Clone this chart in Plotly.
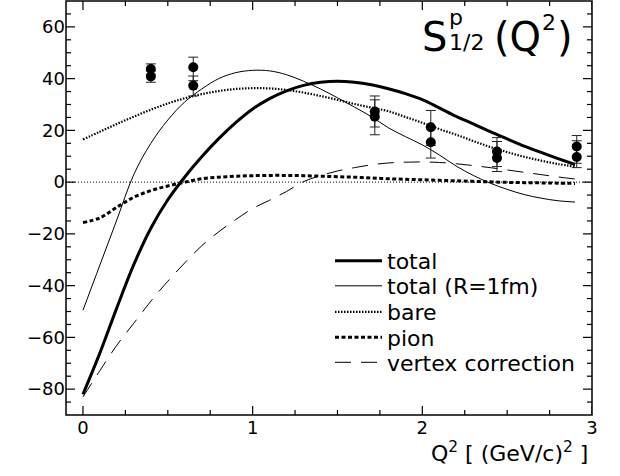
import plotly.graph_objects as go

# ---------------- data ----------------
q2 = [0.0, 0.1, 0.2, 0.3, 0.4, 0.5, 0.6, 0.7, 0.8, 0.9,
      1.0, 1.1, 1.2, 1.3, 1.4, 1.5, 1.6, 1.7, 1.8, 1.9,
      2.0, 2.1, 2.2, 2.3, 2.4, 2.5, 2.6, 2.7, 2.8, 2.9]

total = [-82, -66, -48.5, -31.8, -17.8, -6.8, 2.0, 9.8, 16.8, 23.0,
         28.3, 32.3, 35.3, 37.4, 38.6, 39.0, 38.6, 37.6, 36.1, 34.2,
         31.9, 28.7, 25.4, 22.5, 19.5, 16.7, 13.9, 11.5, 9.1, 6.8]

total_r1 = [-49.5, -32, -14.5, 3, 15, 24, 31, 36, 40, 42.3,
            43.2, 43.0, 41.5, 39.0, 36.0, 32.6, 29.0, 25.3, 21.0, 17.6,
            14.4, 10.5, 6.2, 2.6, -0.4, -2.8, -4.8, -6.2, -7.2, -7.7]

bare = [16.5, 19.5, 22.5, 25.3, 28.0, 30.4, 32.4, 34.0, 35.2, 36.0,
        36.3, 36.2, 35.6, 34.6, 33.3, 31.8, 30.2, 28.8, 27.4, 25.2,
        22.9, 20.5, 18.3, 15.9, 13.6, 11.6, 9.8, 8.3, 7.0, 6.0]

pion = [-15.6, -13.8, -9.7, -5.8, -3.3, -1.5, 0.0, 1.3, 1.9, 2.3,
        2.5, 2.6, 2.6, 2.5, 2.3, 2.1, 1.9, 1.6, 1.3, 1.1,
        0.9, 0.7, 0.5, 0.3, 0.1, -0.1, -0.2, -0.3, -0.4, -0.5]

vertex = [-83, -72.8, -63, -54.5, -46, -38.3, -31.2, -24.6, -19.2, -14.5,
          -10.2, -7.0, -3.6, 0.2, 2.5, 4.3, 5.6, 6.7, 7.4, 7.7,
          7.8, 7.6, 7.1, 6.4, 5.6, 4.7, 3.8, 2.9, 2.0, 1.2]

data_q2 = [0.40, 0.40, 0.65, 0.65, 1.72, 1.72, 2.05, 2.05, 2.44, 2.44, 2.91, 2.91]
data_s = [43.7, 40.8, 44.4, 37.3, 27.3, 25.3, 21.2, 15.4, 11.8, 9.3, 13.8, 9.7]
err_up = [2.0, 2.2, 3.9, 3.7, 6.0, 6.5, 6.5, 6.0, 5.4, 6.4, 4.2, 6.3]
err_dn = [2.0, 2.2, 5.2, 4.0, 6.0, 7.0, 7.0, 6.1, 5.8, 5.2, 6.5, 4.1]

legend_names = ["total", "total (R=1fm)", "bare", "pion", "vertex correction"]

x_range = [-0.1, 3.0]
y_range = [-90, 70]
x_major, x_minor_step = 1.0, 0.25
y_major, y_minor_step = 20, 5

FONT = "DejaVu Sans"

# ---------------- figure ----------------
fig = go.Figure()

# zero reference line
fig.add_trace(go.Scatter(x=x_range, y=[0, 0], mode="lines",
                         line=dict(color="black", width=1, dash="1px,2px"),
                         showlegend=False, hoverinfo="skip"))

curves = [total, total_r1, bare, pion, vertex]
styles = [dict(width=3, dash="solid"),
          dict(width=1, dash="solid"),
          dict(width=2.2, dash="1.5px,1.5px"),
          dict(width=3, dash="4px,2.5px"),
          dict(width=1, dash="16px,10px")]
legend_ids = ["legend", "legend2", "legend3", "legend4", "legend5"]
for name, ys, st, lg in zip(legend_names, curves, styles, legend_ids):
    fig.add_trace(go.Scatter(x=q2, y=ys, mode="lines", name=name, legend=lg,
                             line=dict(color="black", shape="spline", **st)))

fig.add_trace(go.Scatter(
    x=data_q2, y=data_s, mode="markers", showlegend=False,
    marker=dict(color="black", size=10),
    error_y=dict(type="data", array=err_up, arrayminus=err_dn, symmetric=False,
                 color="#222", thickness=1, width=5)))

axis_common = dict(showline=False, ticks="", showgrid=False, zeroline=False,
                   tickmode="linear", tick0=0,
                   tickfont=dict(family=FONT, size=18, color="black"))
fig.update_xaxes(range=x_range, dtick=x_major, **axis_common)
fig.update_yaxes(range=y_range, dtick=y_major, **axis_common)

# plot frame
fig.add_shape(type="rect", xref="paper", yref="paper", x0=0, y0=0, x1=1, y1=1,
              line=dict(color="black", width=1.5), layer="above")

# inward ticks on all four sides (positioned through the axes, length in pixels)
tick_line = dict(color="black", width=1.2)
n_x = int(round((x_range[1] - 0) / x_minor_step))
for i in range(n_x + 1):
    xv = i * x_minor_step
    L = 9 if abs(xv / x_major - round(xv / x_major)) < 1e-9 else 5
    fig.add_shape(type="line", xref="x", yref="y", x0=xv, x1=xv,
                  ysizemode="pixel", yanchor=y_range[0], y0=0, y1=L,
                  line=tick_line, layer="above")
    fig.add_shape(type="line", xref="x", yref="y", x0=xv, x1=xv,
                  ysizemode="pixel", yanchor=y_range[1], y0=0, y1=-L,
                  line=tick_line, layer="above")
n_y = int(round((y_range[1] - y_range[0]) / y_minor_step))
for i in range(1, n_y):
    yv = y_range[0] + i * y_minor_step
    L = 9 if yv % y_major == 0 else 5
    fig.add_shape(type="line", xref="x", yref="y", y0=yv, y1=yv,
                  xsizemode="pixel", xanchor=x_range[0], x0=0, x1=L,
                  line=tick_line, layer="above")
    fig.add_shape(type="line", xref="x", yref="y", y0=yv, y1=yv,
                  xsizemode="pixel", xanchor=x_range[1], x0=0, x1=-L,
                  line=tick_line, layer="above")

def px_x(px):
    return (px - 66) / 526.0

def px_y(py):
    return (415 - py) / 414.0

ann = []
# title S^p_{1/2}(Q^2)
ann.append(dict(text="S", x=px_x(421), y=px_y(36.5), font=dict(size=40)))
ann.append(dict(text="p", x=px_x(448), y=px_y(18), font=dict(size=22)))
ann.append(dict(text="1/2", x=px_x(448), y=px_y(42), font=dict(size=22)))
ann.append(dict(text="(Q", x=px_x(493), y=px_y(36.5), font=dict(size=40)))
ann.append(dict(text="2", x=px_x(541), y=px_y(22), font=dict(size=22)))
ann.append(dict(text=")", x=px_x(556), y=px_y(36.5), font=dict(size=40)))
for a in ann:
    a.update(xref="paper", yref="paper", xanchor="left", yanchor="middle",
             showarrow=False, borderpad=0)
    a["font"].update(family=FONT, color="black")

# x-axis title
ann.append(dict(text="Q<sup>2</sup> [ (GeV/c)<sup>2</sup> ]", xref="paper", yref="paper",
                x=px_x(589), y=px_y(452), xanchor="right", yanchor="middle",
                showarrow=False, borderpad=0,
                font=dict(family=FONT, size=22, color="black")))

legend_rows = [261, 286, 312, 337.5, 362.5]
layout_legends = {}
for lg, row in zip(legend_ids, legend_rows):
    layout_legends[lg] = dict(x=px_x(330), y=px_y(row), xanchor="left", yanchor="middle",
                              bgcolor="rgba(0,0,0,0)", borderwidth=0, itemwidth=47,
                              font=dict(family=FONT, size=22, color="black"))

fig.update_layout(
    width=620, height=476,
    margin=dict(l=66, r=28, t=1, b=61),
    paper_bgcolor="white", plot_bgcolor="white",
    annotations=ann,
    showlegend=True,
    **layout_legends,
)

fig.write_html("out.html", config={"displayModeBar": False},
               post_script="document.body.style.margin='0px';")
